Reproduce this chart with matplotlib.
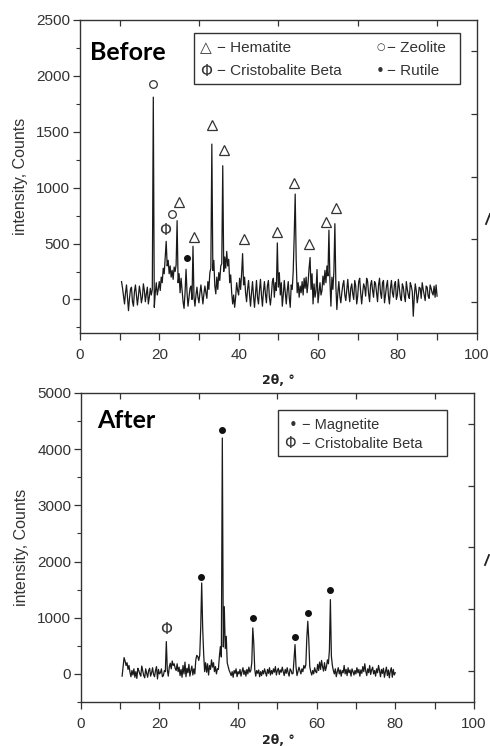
import numpy as np
import matplotlib
matplotlib.use("Agg")
import matplotlib.pyplot as plt
from matplotlib.patches import Rectangle
from matplotlib.lines import Line2D

plt.rcParams['font.family'] = ['Liberation Sans', 'DejaVu Sans']

# scan grid, 0.25 deg step
step = 0.25

# ---- before: 2theta 10.5 .. 90 ----
before_start = 10.5
before_y = [
    160, 100,
    30, -40, 60, 130,      # 11
    20, -100, 10, 90,      # 12
    110, -20, -60, 70,     # 13
    130, 40, -50, 30,      # 14
    120, 60, -30, 20,      # 15
    140, 80, -20, 50,      # 16
    110, -40, 20, 100,     # 17
    40, 90, 1810, -70,     # 18
    60, 150, 40, 90,       # 19
    160, 80, 200, 150,     # 20
    280, 230, 370, 520,    # 21
    300, 350, 230, 300,    # 22
    200, 260, 180, 290,    # 23
    250, 310, 705, 150,    # 24
    230, 60, 190, 90,      # 25
    -20, -80, 60, 270,     # 26
    60, -60, 20, 100,      # 27
    120, 0, 476, 20,       # 28
    -60, 40, 110, 20,      # 29
    -30, 60, 130, 40,      # 30
    -40, 50, 120, 60,      # 31
    10, 160, 90, 240,      # 32
    280, 1390, 260, 350,   # 33
    120, 50, 200, 90,      # 34
    240, 170, 300, 320,    # 35
    1196, 250, 380, 280,   # 36
    430, 300, 360, 150,    # 37
    220, 60, -40, 40,      # 38
    -70, 20, 150, 80,      # 39
    40, 190, 90, 230,      # 40
    410, 130, 200, 60,     # 41
    -20, 90, 170, 40,      # 42
    -60, 60, 160, 30,      # 43
    -70, 50, 170, 20,      # 44
    -40, 80, 180, 40,      # 45
    -60, 70, 160, 50,      # 46
    -30, 120, 170, 20,     # 47
    -50, 40, 160, 190,     # 48
    20, 150, 80, 506,      # 49
    110, 240, 40, 150,     # 50
    -60, 40, 170, 60,      # 51
    -40, 80, 160, 20,      # 52
    -70, 130, 90, 250,     # 53
    565, 943, 357, 60,     # 54
    150, 20, 120, 60,      # 55
    160, 40, 190, 100,     # 56
    200, 60, 150, 280,     # 57
    375, 90, 230, -40,     # 58
    140, 20, 80, 268,      # 59
    -30, 60, 150, 40,      # 60
    80, 210, 130, 260,     # 61
    150, 300, 210, 620,    # 62
    170, -60, 200, 90,     # 63
    250, 678, 120, -90,    # 64
    60, 160, 30, -30,      # 65
    60, 130, 170, 40,      # 66
    -10, 90, 180, 60,      # 67
    -20, 100, 140, 50,     # 68
    0, 170, 120, -40,      # 69
    30, 160, 190, 60,      # 70
    -40, 60, 140, 110,     # 71
    30, 190, 160, 50,      # 72
    -20, 130, 170, 80,     # 73
    20, 160, 140, 60,      # 74
    -20, 130, 190, 60,     # 75
    10, 150, 170, -30,     # 76
    40, 120, 170, 30,      # 77
    -40, 100, 170, 60,     # 78
    20, 130, 160, 0,       # 79
    40, 180, 100, 20,      # 80
    -10, 140, 110, 30,     # 81
    -20, 160, 90, 40,      # 82
    10, 150, 120, 70,      # 83
    -150, 20, 140, 80,     # 84
    -30, 30, 110, 100,     # 85
    10, 150, 90, 40,       # 86
    -10, 120, 110, 30,     # 87
    10, 130, 100, 60,      # 88
    40, 120, 20, 130,      # 89
    30,                    # 90
]

# ---- after: 2theta 10.5 .. 80 ----
after_start = 10.5
after_y = [
    -40, 120,
    290, 230, 150, 200,    # 11
    80, 150, 30, -50,      # 12
    60, -20, 90, -60,      # 13
    40, -80, 100, 60,      # 14
    0, -40, 140, 50,       # 15
    -30, -70, 90, 10,      # 16
    -60, 60, 100, -40,     # 17
    20, 110, -10, -50,     # 18
    60, 130, -90, 80,      # 19
    0, 20, 90, -50,        # 20
    -30, 60, 40, 575,      # 21
    70, -40, 120, 190,     # 22
    90, 230, 150, 180,     # 23
    100, 60, 180, 40,      # 24
    120, -30, 80, -60,     # 25
    150, 0, 210, -50,      # 26
    100, 20, 170, -40,     # 27
    60, 140, -20, 90,      # 28
    0, 250, 330, 310,      # 29
    240, 330, 820, 1619,   # 30
    820, 360, 40, 200,     # 31
    30, 180, -20, 150,     # 32
    80, 250, 120, 200,     # 33
    40, 130, 0, 90,        # 34
    80, 310, 486, 300,     # 35
    4199, 480, 1197, 450,  # 36
    670, 196, 130, 60,     # 37
    20, -30, 40, -60,      # 38
    60, 10, 90, -50,       # 39
    40, 0, 80, -40,        # 40
    40, 110, -10, 60,      # 41
    -40, 80, 0, 120,       # 42
    30, 60, 200, 818,      # 43
    552, 80, -40, 60,      # 44
    10, 70, -50, 40,       # 45
    -30, 60, 0, 90,        # 46
    20, -40, 80, 10,       # 47
    110, -20, 60, 0,       # 48
    90, 30, 130, -20,      # 49
    60, 100, -10, 70,      # 50
    30, 120, 40, -30,      # 51
    80, 10, 110, 20,       # 52
    -40, 90, 60, 0,        # 53
    10, 280, 522, 130,     # 54
    -30, 40, 120, 60,      # 55
    0, 90, 40, 150,        # 56
    100, 160, 640, 937,    # 57
    605, 130, 40, -20,     # 58
    60, 0, 110, 40,        # 59
    20, 170, 60, 210,      # 60
    80, 240, 130, 50,      # 61
    200, 60, 130, 250,     # 62
    180, 427, 1322, 320,   # 63
    150, 60, 0, 90,        # 64
    -50, 40, 110, 0,       # 65
    70, -40, 60, 20,       # 66
    150, 0, 80, -30,       # 67
    110, 20, 70, -40,      # 68
    90, 40, -20, 60,       # 69
    0, 110, 20, 80,        # 70
    -40, 70, 10, 130,      # 71
    40, 180, 50, -30,      # 72
    90, 20, 150, -10,      # 73
    70, 120, 0, 60,        # 74
    -40, 90, 20, 150,      # 75
    60, -50, 80, 10,       # 76
    100, -60, 40, 120,     # 77
    -30, 70, -70, 50,      # 78
    110, -60, 80, -20,     # 79
    20,                    # 80
]

# phase markers (2theta, label height)
b_hematite_x = [25.0, 28.8, 33.2, 36.3, 41.4, 49.7, 54.0, 57.8, 62.1, 64.6]
b_hematite_y = [872, 560, 1562, 1333, 542, 600, 1040, 500, 690, 818]
b_zeolite_x = [18.5, 23.1]
b_zeolite_y = [1925, 768]
b_cristo_x = [21.6]
b_cristo_y = [616]
b_rutile_x = [26.9]
b_rutile_y = [372]

a_magnetite_x = [30.7, 36.0, 43.85, 54.45, 57.8, 63.4]
a_magnetite_y = [1726, 4336, 996, 653, 1085, 1489]
a_cristo_x = [21.8]
a_cristo_y = [795]

before_x = before_start + step * np.arange(len(before_y))
after_x = after_start + step * np.arange(len(after_y))

fig = plt.figure(figsize=(4.9, 7.46), dpi=100)
ax1 = fig.add_axes([0.163, 0.5536, 0.810, 0.4196])
ax2 = fig.add_axes([0.165, 0.0590, 0.802, 0.4142])

tick_col = '#333333'
line_col = '#1a1a1a'


def style_axes(ax, ylim, ymajor, yminor):
    ax.set_xlim(0, 100)
    ax.set_ylim(*ylim)
    ax.set_xticks(np.arange(0, 101, 20))
    ax.set_xticks(np.arange(10, 100, 20), minor=True)
    ax.set_yticks(np.arange(0, ylim[1] + 1, ymajor))
    ax.set_yticks(np.arange(-yminor, ylim[1] + 1, yminor), minor=True)
    ax.tick_params(axis='both', which='major', direction='out', length=5,
                   width=0.9, color=tick_col, labelsize=11, labelcolor=tick_col)
    ax.tick_params(axis='x', which='both', pad=6, length=5, width=0.9, color=tick_col)
    ax.tick_params(axis='y', which='major', pad=2)
    ax.tick_params(axis='y', which='minor', direction='out', length=3,
                   width=0.8, color=tick_col)
    for s in ax.spines.values():
        s.set_color(tick_col)
        s.set_linewidth(1.0)
    ax.set_ylabel('intensity, Counts', fontsize=11.5, color=tick_col, labelpad=6)
    # inner ticks on top and right
    tw = ax.twinx()
    tw.set_ylim(0, 1)
    tw.set_yticks([0.1, 0.3, 0.5, 0.7, 0.9])
    tw.tick_params(direction='in', length=4, width=0.9, color=tick_col,
                   labelright=False)
    ty = ax.twiny()
    ty.set_xlim(0, 1)
    ty.set_xticks([0.1, 0.3, 0.5, 0.7, 0.9])
    ty.tick_params(direction='in', length=4, width=0.9, color=tick_col,
                   labeltop=False)
    for t in (tw, ty):
        for s in t.spines.values():
            s.set_visible(False)


style_axes(ax1, (-300, 2500), 500, 250)
style_axes(ax2, (-500, 5000), 1000, 500)

ax1.plot(before_x, before_y, color=line_col, lw=0.9)
ax2.plot(after_x, after_y, color=line_col, lw=0.9)

# peak labels
ax1.plot(b_hematite_x, b_hematite_y, ls='none', marker='^', ms=7,
         mfc='white', mec='#333333', mew=0.9)
ax1.plot(b_zeolite_x, b_zeolite_y, ls='none', marker='o', ms=5.5,
         mfc='white', mec='#333333', mew=0.9)
ax1.plot(b_rutile_x, b_rutile_y, ls='none', marker='o', ms=4,
         mfc='#111111', mec='#111111')
for x, y in zip(b_cristo_x, b_cristo_y):
    ax1.text(x, y, 'Φ', ha='center', va='center', fontsize=11, color='#333333',
             family=['DejaVu Sans'])

ax2.plot(a_magnetite_x, a_magnetite_y, ls='none', marker='o', ms=4,
         mfc='#111111', mec='#111111')
for x, y in zip(a_cristo_x, a_cristo_y):
    ax2.text(x, y, 'Φ', ha='center', va='center', fontsize=11, color='#333333',
             family=['DejaVu Sans'])

# x labels
fig.text(0.568, 1 - 380 / 746, '2θ, °', ha='center', va='center',
         fontsize=9, fontweight='bold', color='#222222', family=['DejaVu Sans'])
fig.text(0.568, 1 - 740 / 746, '2θ, °', ha='center', va='center',
         fontsize=9, fontweight='bold', color='#222222', family=['DejaVu Sans'])

# panel titles
ax1.text(0.025, 0.872, 'Before', transform=ax1.transAxes, fontsize=18,
         fontweight='bold', family=['Lato', 'DejaVu Sans'], va='baseline')
ax2.text(0.041, 0.887, 'After', transform=ax2.transAxes, fontsize=18,
         fontweight='bold', family=['Lato', 'DejaVu Sans'], va='baseline')

# legend boxes
sym_font = ['DejaVu Sans']
ax1.add_patch(Rectangle((0.287, 0.796), 0.670, 0.162, transform=ax1.transAxes,
                        fill=False, ec='#333333', lw=1.0))
kw = dict(transform=ax1.transAxes, va='center', fontsize=11, color='#333333')
ax1.text(0.318, 0.911, '△', ha='center', family=sym_font, **kw)
ax1.text(0.345, 0.911, '− Hematite', ha='left', **kw)
ax1.text(0.318, 0.837, 'Φ', ha='center', family=sym_font, **kw)
ax1.text(0.345, 0.837, '− Cristobalite Beta', ha='left', **kw)
ax1.text(0.757, 0.914, '○', ha='center', family=sym_font, transform=ax1.transAxes,
         va='center', fontsize=7, color='#333333')
ax1.text(0.775, 0.911, '− Zeolite', ha='left', **kw)
ax1.text(0.757, 0.837, '•', ha='center', family=sym_font, **kw)
ax1.text(0.775, 0.837, '− Rutile', ha='left', **kw)

ax2.add_patch(Rectangle((0.501, 0.796), 0.430, 0.149, transform=ax2.transAxes,
                        fill=False, ec='#333333', lw=1.0))
kw2 = dict(transform=ax2.transAxes, va='center', fontsize=10.5, color='#333333')
ax2.text(0.539, 0.896, '•', ha='center', family=sym_font, **kw2)
ax2.text(0.562, 0.896, '− Magnetite', ha='left', **kw2)
ax2.text(0.532, 0.835, 'Φ', ha='center', family=sym_font, **kw2)
ax2.text(0.562, 0.835, '− Cristobalite Beta', ha='left', **kw2)

# small cut-off marks at the right edge
fig.add_artist(Line2D([486 / 490, 490 / 490], [1 - 224 / 746, 1 - 214 / 746],
                      color='#222222', lw=1.3))
fig.add_artist(Line2D([485 / 490, 489 / 490], [1 - 565 / 746, 1 - 555 / 746],
                      color='#222222', lw=1.3))

fig.savefig('out.png', dpi=100)
